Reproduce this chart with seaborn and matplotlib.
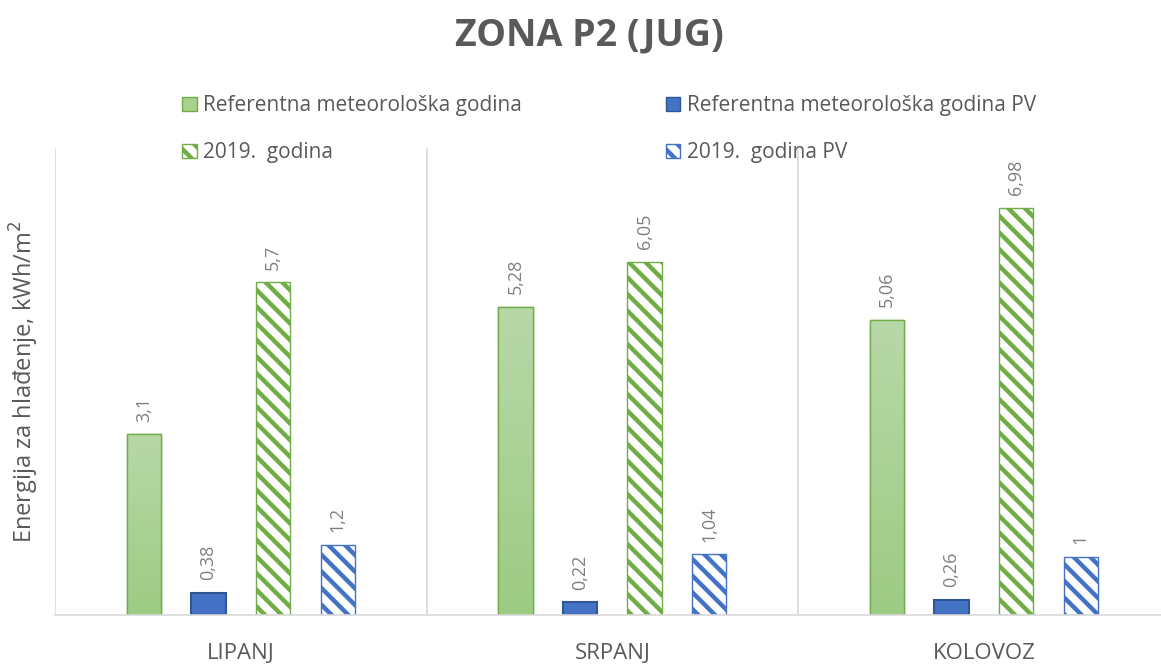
import matplotlib
matplotlib.use("Agg")
import matplotlib.pyplot as plt
import numpy as np
import pandas as pd
import seaborn as sns

# Data
months = ["LIPANJ", "SRPANJ", "KOLOVOZ"]
series = ["Referentna meteorološka godina", "Referentna meteorološka godina PV",
          "2019.  godina", "2019.  godina PV"]
ref_god = [3.1, 5.28, 5.06]
ref_god_pv = [0.38, 0.22, 0.26]
god_2019 = [5.7, 6.05, 6.98]
god_2019_pv = [1.2, 1.04, 1.0]

df = pd.DataFrame({
    "mjesec": months * 4,
    "serija": np.repeat(series, 3),
    "vrijednost": ref_god + ref_god_pv + god_2019 + god_2019_pv,
})

sns.set_theme(style="white")
plt.rcParams["font.family"] = ["Open Sans", "DejaVu Sans"]
plt.rcParams["hatch.linewidth"] = 3.2

green = "#70ad47"
blue = "#4472c4"
grey = "#595959"

fig = plt.figure(figsize=(11.61, 6.65), dpi=100)
ax = fig.add_axes([0.0474, 0.0752, 0.96, 0.7022])

sns.barplot(data=df, x="mjesec", y="vrijednost", hue="serija", order=months,
            hue_order=series, width=0.695, gap=0.47, ax=ax, legend=False,
            palette=["#a9d18e", blue, "white", "white"])

styles = [
    dict(fc="#a9d18e", ec=green, hatch=None, lw=1.0),
    dict(fc=blue, ec="#2f5597", hatch=None, lw=1.5),
    dict(fc="white", ec=green, hatch="\\\\", lw=1.0),
    dict(fc="white", ec=blue, hatch="\\\\", lw=1.0),
]
for cont, st in zip(ax.containers, styles):
    for p in cont:
        p.set_facecolor(st["fc"])
        p.set_edgecolor(st["ec"])
        p.set_linewidth(st["lw"])
        if st["hatch"]:
            p.set_hatch(st["hatch"])

# gradient on the first series
grad = np.linspace(0, 1, 256).reshape(-1, 1)
cmap = matplotlib.colors.LinearSegmentedColormap.from_list("g", ["#9dcb84", "#b8d8a8"])
for p in ax.containers[0]:
    x0, y0 = p.get_x(), p.get_y()
    w, h = p.get_width(), p.get_height()
    im = ax.imshow(grad, extent=[x0, x0 + w, y0, y0 + h], origin="lower",
                   cmap=cmap, aspect="auto", zorder=p.get_zorder() + 0.1)
    im.set_clip_path(p)
    edge = matplotlib.patches.Rectangle((x0, y0), w, h, fill=False, ec=green,
                                        lw=1.0, zorder=p.get_zorder() + 0.2)
    ax.add_patch(edge)

for cont in ax.containers:
    labels = [f"{v.get_height():g}".replace(".", ",") for v in cont]
    ax.bar_label(cont, labels=labels, rotation=90, padding=9,
                 color="#7f7f7f", fontsize=13)

ax.set_xlim(-0.5, 2.5)
ax.set_ylim(0, 8)
ax.set_yticks([])
for xv in [-0.5, 0.5, 1.5, 2.5]:
    ax.axvline(xv, color="#d9d9d9", lw=1.2, zorder=0)
for s in ["top", "right", "left"]:
    ax.spines[s].set_visible(False)
ax.spines["bottom"].set_color("#d9d9d9")
ax.spines["bottom"].set_linewidth(1.2)
ax.tick_params(axis="x", length=0, pad=20, labelsize=16, labelcolor=grey)
ax.set_xlabel("")
ax.set_ylabel("Energija za hlađenje, kWh/m$^2$", fontsize=17, color=grey, labelpad=10)

fig.suptitle("ZONA P2 (JUG)", x=0.508, y=0.975, fontsize=27, fontweight="bold", color=grey)

order = [0, 2, 1, 3]
handles = []
for i in order:
    st = styles[i]
    handles.append(matplotlib.patches.Patch(fc=st["fc"], ec=st["ec"], hatch=st["hatch"], lw=1.0))
fig.legend(handles, [series[i] for i in order], ncol=2, loc="upper left",
           bbox_to_anchor=(0.141, 0.885), frameon=False, fontsize=15,
           labelcolor=grey, handlelength=0.7, handleheight=0.7, handletextpad=0.3,
           columnspacing=6.9, labelspacing=1.25)

fig.savefig("out.png", dpi=100)
